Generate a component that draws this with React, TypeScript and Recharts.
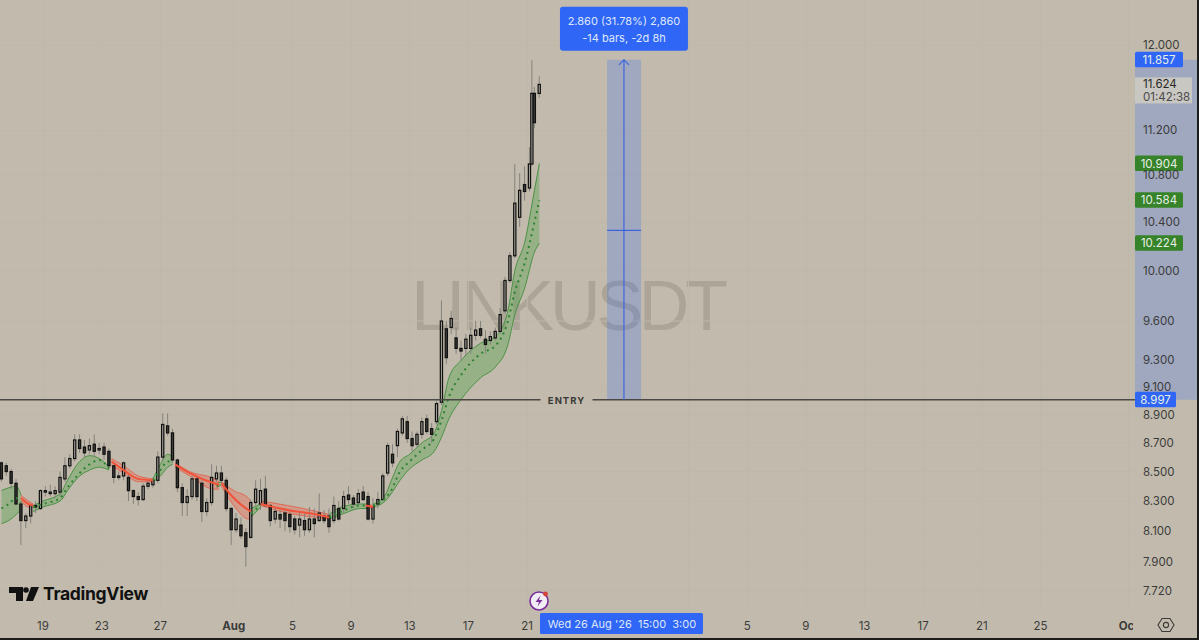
import React from "react";
import {
  ComposedChart,
  Area,
  Bar,
  Line,
  XAxis,
  YAxis,
  CartesianGrid,
  ReferenceArea,
  ReferenceDot,
  ReferenceLine,
} from "recharts";

// bars are 4h, counted from 19 Jul: [bar, open, high, low, close]
type Candle = [number, number, number, number, number];
// [bar, upper, mid, lower]
type BandPoint = [number, number, number, number];

const lateJulyCandles: Candle[] = [
  [-17, 8.56, 8.57, 8.43, 8.45], [-15, 8.54, 8.56, 8.47, 8.5], [-13, 8.5, 8.52, 8.38, 8.42], [-11, 8.42, 8.45, 8.28, 8.28],
  [-9, 8.28, 8.29, 8.01, 8.17], [-7, 8.17, 8.22, 8.12, 8.2], [-5, 8.2, 8.28, 8.15, 8.27], [-3, 8.27, 8.3, 8.22, 8.26],
  [-1, 8.25, 8.38, 8.24, 8.37], [1, 8.36, 8.4, 8.33, 8.37], [3, 8.36, 8.41, 8.33, 8.36], [5, 8.35, 8.4, 8.32, 8.37],
  [7, 8.36, 8.5, 8.33, 8.46], [9, 8.45, 8.6, 8.43, 8.54], [11, 8.54, 8.62, 8.52, 8.59], [13, 8.59, 8.76, 8.57, 8.72],
  [15, 8.72, 8.76, 8.63, 8.66], [17, 8.67, 8.72, 8.6, 8.63], [19, 8.65, 8.73, 8.62, 8.68], [21, 8.69, 8.76, 8.6, 8.64],
  [23, 8.65, 8.7, 8.62, 8.66], [25, 8.67, 8.7, 8.58, 8.62], [27, 8.64, 8.66, 8.52, 8.54], [29, 8.54, 8.55, 8.42, 8.46],
  [31, 8.46, 8.5, 8.44, 8.47], [33, 8.47, 8.57, 8.44, 8.56], [35, 8.46, 8.48, 8.3, 8.37], [37, 8.37, 8.38, 8.28, 8.33],
  [39, 8.33, 8.36, 8.27, 8.31], [41, 8.31, 8.42, 8.3, 8.4], [43, 8.4, 8.44, 8.38, 8.42], [45, 8.41, 8.46, 8.39, 8.44],
  [47, 8.44, 8.64, 8.42, 8.6], [49, 8.6, 8.91, 8.58, 8.83], [51, 8.82, 8.91, 8.75, 8.77], [53, 8.77, 8.8, 8.56, 8.58],
  [55, 8.58, 8.59, 8.36, 8.39], [57, 8.39, 8.42, 8.2, 8.29], [59, 8.29, 8.38, 8.2, 8.33], [61, 8.33, 8.47, 8.31, 8.45],
  [63, 8.45, 8.47, 8.3, 8.33], [65, 8.42, 8.44, 8.16, 8.23], [67, 8.23, 8.32, 8.2, 8.29], [69, 8.29, 8.55, 8.27, 8.46],
  [71, 8.45, 8.54, 8.43, 8.49], [73, 8.49, 8.54, 8.42, 8.44], [75, 8.44, 8.46, 8.23, 8.25], [77, 8.25, 8.26, 8.01, 8.11],
  [79, 8.11, 8.22, 8.09, 8.18], [81, 8.14, 8.19, 8.05, 8.07], [83, 8.09, 8.12, 7.87, 8.0],
];

const earlyAugustCandles: Candle[] = [
  [85, 8.06, 8.31, 8.05, 8.29], [87, 8.29, 8.44, 8.27, 8.38], [89, 8.28, 8.45, 8.24, 8.37], [91, 8.38, 8.47, 8.26, 8.27],
  [93, 8.27, 8.28, 8.13, 8.17], [95, 8.18, 8.26, 8.15, 8.23], [97, 8.21, 8.24, 8.12, 8.18], [99, 8.22, 8.25, 8.1, 8.17],
  [101, 8.21, 8.23, 8.09, 8.13], [103, 8.18, 8.2, 8.08, 8.11], [105, 8.14, 8.22, 8.06, 8.18], [107, 8.17, 8.22, 8.07, 8.11],
  [109, 8.11, 8.26, 8.09, 8.18], [111, 8.18, 8.25, 8.06, 8.15], [113, 8.17, 8.35, 8.16, 8.22], [115, 8.2, 8.24, 8.15, 8.17],
  [117, 8.2, 8.25, 8.09, 8.13], [119, 8.17, 8.33, 8.15, 8.27], [121, 8.25, 8.3, 8.17, 8.18], [123, 8.25, 8.37, 8.22, 8.33],
  [125, 8.34, 8.4, 8.28, 8.31], [127, 8.32, 8.34, 8.25, 8.28], [129, 8.29, 8.38, 8.27, 8.35], [131, 8.36, 8.4, 8.3, 8.31],
  [133, 8.33, 8.36, 8.17, 8.18], [135, 8.18, 8.32, 8.15, 8.26], [137, 8.28, 8.36, 8.25, 8.31], [139, 8.31, 8.49, 8.3, 8.47],
];

const breakoutCandles: Candle[] = [
  [141, 8.49, 8.7, 8.47, 8.68], [143, 8.62, 8.69, 8.53, 8.56], [145, 8.68, 8.8, 8.6, 8.78], [147, 8.77, 8.89, 8.75, 8.87],
  [149, 8.85, 8.89, 8.7, 8.73], [151, 8.73, 8.78, 8.64, 8.68], [153, 8.69, 8.78, 8.67, 8.76], [155, 8.76, 8.88, 8.73, 8.85],
  [157, 8.87, 8.9, 8.76, 8.78], [159, 8.8, 8.84, 8.7, 8.76], [161, 8.85, 9.0, 8.83, 8.98], [163, 8.99, 9.76, 8.97, 9.6],
  [165, 9.54, 9.6, 9.27, 9.32], [167, 9.55, 9.68, 9.5, 9.62], [169, 9.47, 9.55, 9.35, 9.39], [171, 9.39, 9.45, 9.3, 9.37],
  [173, 9.39, 9.5, 9.33, 9.46], [175, 9.39, 9.55, 9.35, 9.49], [177, 9.49, 9.6, 9.45, 9.53], [179, 9.54, 9.6, 9.47, 9.49],
  [181, 9.46, 9.53, 9.35, 9.42], [183, 9.45, 9.52, 9.42, 9.48], [185, 9.47, 9.55, 9.45, 9.52], [187, 9.52, 9.7, 9.5, 9.65],
  [189, 9.68, 9.95, 9.66, 9.92], [191, 9.92, 10.15, 9.9, 10.12], [193, 10.12, 10.9, 10.1, 10.56], [195, 10.44, 10.82, 10.36, 10.67],
  [197, 10.72, 10.88, 10.58, 10.66], [199, 10.69, 11.05, 10.66, 10.9], [200, 10.9, 11.855, 10.88, 11.54], [201, 11.54, 11.6, 11.22, 11.27],
  [203, 11.54, 11.7, 11.5, 11.624],
];

const greenBands: BandPoint[][] = [
  [[-17, 8.37, 8.25, 8.15], [-14, 8.39, 8.28, 8.17], [-11, 8.4, 8.32, 8.21], [-9, 8.34, 8.29, 8.24]],
  [[-4, 8.27, 8.26, 8.23], [0, 8.3, 8.28, 8.26], [7, 8.35, 8.32, 8.3], [10, 8.44, 8.39, 8.37], [15, 8.57, 8.49, 8.47], [19, 8.61, 8.55, 8.51], [23, 8.59, 8.58, 8.53], [27, 8.53, 8.52, 8.51]],
  [[45, 8.45, 8.44, 8.43], [48, 8.55, 8.51, 8.47], [51, 8.62, 8.57, 8.53], [53, 8.6, 8.57, 8.55]],
  [[71, 8.42, 8.4, 8.39], [73, 8.43, 8.42, 8.41]],
  [[85, 8.25, 8.22, 8.19], [89, 8.28, 8.27, 8.26]],
  [[117, 8.21, 8.19, 8.18], [122, 8.26, 8.23, 8.21], [130, 8.28, 8.27, 8.25], [133, 8.28, 8.27, 8.25]],
  [
    [135, 8.28, 8.27, 8.26], [140, 8.34, 8.32, 8.3], [142, 8.42, 8.36, 8.34], [146, 8.57, 8.5, 8.44], [150, 8.62, 8.57, 8.52],
    [155, 8.7, 8.65, 8.58], [160, 8.77, 8.73, 8.64], [163, 8.93, 8.86, 8.74], [166, 9.17, 9.03, 8.87], [171, 9.3, 9.19, 9.01],
    [179, 9.43, 9.35, 9.17], [185, 9.48, 9.41, 9.25], [190, 9.67, 9.59, 9.41], [193, 10.0, 9.83, 9.65], [197, 10.23, 10.06, 9.86],
    [201, 10.67, 10.4, 10.15], [203, 10.904, 10.584, 10.224],
  ],
];

const redBands: BandPoint[][] = [
  [[-9, 8.34, 8.32, 8.3], [-6, 8.3, 8.28, 8.26], [-4, 8.28, 8.27, 8.26]],
  [[28, 8.59, 8.57, 8.54], [33, 8.54, 8.51, 8.49], [39, 8.47, 8.45, 8.43], [45, 8.45, 8.44, 8.43]],
  [[54, 8.56, 8.55, 8.53], [60, 8.5, 8.49, 8.47], [70, 8.45, 8.42, 8.38], [72, 8.43, 8.41, 8.38]],
  [[73, 8.43, 8.42, 8.4], [78, 8.37, 8.32, 8.27], [84, 8.32, 8.24, 8.18], [85, 8.3, 8.23, 8.19]],
  [[89, 8.3, 8.28, 8.27], [100, 8.27, 8.24, 8.22], [112, 8.23, 8.21, 8.19], [117, 8.21, 8.19, 8.18]],
  [[132, 8.28, 8.27, 8.26], [135, 8.27, 8.26, 8.25]],
];

const priceTicks = [12, 11.2, 10.8, 10.4, 10, 9.6, 9.3, 9.1, 8.9, 8.7, 8.5, 8.3, 8.1, 7.9, 7.72];
const timeTicks = [0, 24, 48, 78, 102, 126, 150, 174, 198, 264, 288, 312, 336, 360, 384, 408, 444];
// the 1 Sep label sits under the crosshair date in the original
const timeLabels = ["19", "23", "27", "Aug", "5", "9", "13", "17", "21", "", "5", "9", "13", "17", "21", "25", "Oct"];

const entryLevel = 9.008; // 8.997 on the tag, line sits about 1px higher on screen
const targetPrice = 11.857;
const midPrice = 10.33;
const emaTags = [
  { price: 10.904, label: "10.904" },
  { price: 10.584, label: "10.584" },
  { price: 10.224, label: "10.224" },
];

const BG = "#c2bbad";
const BLUE = "#2f66f5";
const UI_FONT = "Inter, 'Noto Sans', sans-serif";

const toRow = ([bar, open, high, low, close]: Candle) => ({ bar, open, high, low, close, range: [low, high] });
const rows = [...lateJulyCandles, ...earlyAugustCandles, ...breakoutCandles].map(toRow);
const toBand = (seg: BandPoint[]) => seg.map(([bar, upper, mid, lower]) => ({ bar, upper, mid, lower, cloud: [lower, upper] }));

const CandleShape = (props: any) => {
  const { x, y, width, height, payload } = props;
  const { open, high, low, close } = payload;
  const k = height / Math.log(high / low);
  const top = y + k * Math.log(high / Math.max(open, close));
  const bottom = y + k * Math.log(high / Math.min(open, close));
  const up = close >= open;
  return (
    <g>
      <line x1={x + width / 2} x2={x + width / 2} y1={y} y2={y + height} stroke="#84827c" strokeWidth={1} />
      <rect
        x={x}
        y={top}
        width={width}
        height={Math.max(bottom - top, 1.5)}
        fill={up ? "#a9a69d" : "#3c3c39"}
        stroke="#101010"
        strokeWidth={1.2}
      />
    </g>
  );
};

const PriceTick = ({ y, payload }: any) => (
  <text x={1143} y={y + 4} fontSize={11.5} fontFamily={UI_FONT} fill="#3b3b3b">
    {payload.value.toFixed(3)}
  </text>
);

const TimeTick = ({ x, y, index }: any) => {
  const label = timeLabels[index];
  const bold = label === "Aug" || label === "Oct";
  return (
    <g clipPath={label === "Oct" ? "url(#octClip)" : undefined}>
      <clipPath id="octClip">
        <rect x={1100} y={610} width={33} height={30} />
      </clipPath>
      <text x={x} y={y + 12} textAnchor="middle" fontSize={11.5} fontWeight={bold ? 700 : 400} fontFamily={UI_FONT} fill="#3b3b3b">
        {label}
      </text>
    </g>
  );
};

const PriceTag = ({ cy, text, fill, w }: any) => (
  <g>
    <rect x={1135} y={cy - 8} width={w} height={15.5} rx={1.5} fill={fill} />
    <text x={1135 + w / 2} y={cy + 4} textAnchor="middle" fontSize={11.5} fontFamily={UI_FONT} fill="#e8efe6">
      {text}
    </text>
  </g>
);

const MeasureBox = ({ cx, cy }: any) => (
  <g>
    <path d={`M${cx - 5} ${cy + 5} L${cx} ${cy} L${cx + 5} ${cy + 5}`} fill="none" stroke="#3f63dd" strokeWidth={1.2} />
    <rect x={cx - 64} y={cy - 53} width={128} height={44} rx={3} fill={BLUE} />
    <text x={cx} y={cy - 35} textAnchor="middle" fontSize={11} fontFamily={UI_FONT} fill="#dfe6fb">
      2.860 (31.78%) 2,860
    </text>
    <text x={cx} y={cy - 18} textAnchor="middle" fontSize={11} fontFamily={UI_FONT} fill="#dfe6fb">
      -14 bars, -2d 8h
    </text>
  </g>
);

const EntryLabel = ({ cx, cy }: any) => (
  <g>
    <rect x={cx - 26} y={cy - 8} width={52} height={16} fill={BG} />
    <text x={cx} y={cy + 4} textAnchor="middle" fontSize={9.5} fontWeight={700} letterSpacing={1} fontFamily={UI_FONT} fill="#3a3a38">
      ENTRY
    </text>
  </g>
);

const DateLabel = ({ cx, cy }: any) => (
  <g>
    <rect x={cx - 82} y={cy + 3} width={163} height={21} rx={1.5} fill={BLUE} />
    <text x={cx} y={cy + 18} textAnchor="middle" fontSize={11} fontFamily={UI_FONT} fill="#dfe6fb" xmlSpace="preserve">
      Wed 26 Aug '26  15:00  3:00
    </text>
  </g>
);

export default function App() {
  return (
    <div style={{ position: "absolute", left: 0, top: 0, width: 1199, height: 640, background: BG, overflow: "hidden" }}>
      <div
        style={{
          position: "absolute",
          left: 400,
          top: 266,
          width: 335,
          textAlign: "center",
          fontFamily: "'Liberation Sans', sans-serif",
          fontSize: 70,
          letterSpacing: -4.2,
          lineHeight: "80px",
          color: "#aba497",
          whiteSpace: "nowrap",
        }}
      >
        LINKUSDT
      </div>

      <div style={{ position: "absolute", left: 0, top: 0 }}>
        <ComposedChart width={1199} height={640} data={rows} margin={{ top: 0, right: 0, bottom: 0, left: 0 }}>
          <CartesianGrid stroke="#bfb8aa" strokeWidth={1} horizontalValues={priceTicks} verticalValues={timeTicks} />
          <XAxis
            dataKey="bar"
            type="number"
            domain={[-17.6, 472.8]}
            allowDataOverflow
            ticks={timeTicks}
            interval={0}
            height={30}
            axisLine={false}
            tickLine={false}
            tick={<TimeTick />}
          />
          <YAxis
            orientation="right"
            mirror
            scale="log"
            type="number"
            domain={[7.6, 12.445]}
            allowDataOverflow
            ticks={priceTicks}
            interval={0}
            axisLine={false}
            tickLine={false}
            tick={<PriceTick />}
          />

          {/* price scale panel hides the grid */}
          <ReferenceArea x1={446.6} x2={472.8} y1={7.6} y2={12.445} fill={BG} fillOpacity={1} stroke="none" />
          <ReferenceArea x1={230.7} x2={244.6} y1={entryLevel} y2={targetPrice} fill="#2962ff" fillOpacity={0.22} stroke="none" />
          <ReferenceArea x1={446.6} x2={472.8} y1={entryLevel} y2={targetPrice} fill="#2962ff" fillOpacity={0.22} stroke="none" />

          {greenBands.map((seg, i) => (
            <Area key={`ga${i}`} type="monotone" data={toBand(seg)} dataKey="cloud" stroke="#4b9146" strokeWidth={1} fill="#5ea552" fillOpacity={0.42} isAnimationActive={false} activeDot={false} />
          ))}
          {redBands.map((seg, i) => (
            <Area key={`ra${i}`} type="monotone" data={toBand(seg)} dataKey="cloud" stroke="#df6a55" strokeWidth={1} fill="#ea6a52" fillOpacity={0.4} isAnimationActive={false} activeDot={false} />
          ))}
          {greenBands.map((seg, i) => (
            <Line key={`gl${i}`} type="monotone" data={toBand(seg)} dataKey="mid" stroke="#2f8233" strokeWidth={2} strokeDasharray="2 4" dot={false} activeDot={false} isAnimationActive={false} />
          ))}
          {redBands.map((seg, i) => (
            <Line key={`rl${i}`} type="monotone" data={toBand(seg)} dataKey="mid" stroke="#f0533a" strokeWidth={2} dot={false} activeDot={false} isAnimationActive={false} />
          ))}

          <Bar dataKey="range" barSize={4} shape={<CandleShape />} isAnimationActive={false} />

          <ReferenceLine
            segment={[{ x: -17.6, y: entryLevel }, { x: 446.6, y: entryLevel }]}
            stroke="#4a4845"
            strokeWidth={1.3}
          />
          <ReferenceLine
            segment={[{ x: 237.6, y: entryLevel }, { x: 237.6, y: targetPrice }]}
            stroke="#3f63dd"
            strokeWidth={1.2}
          />
          <ReferenceLine
            segment={[{ x: 230.7, y: midPrice }, { x: 244.6, y: midPrice }]}
            stroke="#3f63dd"
            strokeWidth={1.2}
          />

          <ReferenceDot x={237.6} y={targetPrice} shape={<MeasureBox />} />
          <ReferenceDot x={214.1} y={entryLevel} shape={<EntryLabel />} />
          <ReferenceDot x={236.8} y={7.6} ifOverflow="visible" shape={<DateLabel />} />

          {emaTags.map((t) => (
            <ReferenceDot key={t.label} x={450} y={t.price} shape={(p: any) => <PriceTag cy={p.cy} text={t.label} fill="#36832a" w={48} />} />
          ))}
          <ReferenceDot x={450} y={targetPrice} shape={(p: any) => <PriceTag cy={p.cy} text="11.857" fill={BLUE} w={48} />} />
          <ReferenceDot x={450} y={entryLevel} shape={(p: any) => <PriceTag cy={p.cy} text="8.997" fill={BLUE} w={41} />} />
          <ReferenceDot
            x={450}
            y={11.624}
            shape={(p: any) => (
              <g>
                <rect x={1135} y={p.cy - 7} width={57} height={26} fill="#c9c7c1" />
                <text x={1143} y={p.cy + 4} fontSize={11.5} fontFamily={UI_FONT} fill="#262626">11.624</text>
                <text x={1143} y={p.cy + 17} fontSize={11.5} fontFamily={UI_FONT} fill="#4a4a4a">01:42:38</text>
              </g>
            )}
          />
        </ComposedChart>
      </div>

      {/* TradingView mark */}
      <svg style={{ position: "absolute", left: 0, top: 575 }} width={160} height={40}>
        <path d="M9 12 H23 V26 H16 V18 H9 Z" fill="#111" />
        <circle cx={26} cy={15} r={2.8} fill="#111" />
        <path d="M31 12 H39 L33 26 H26 Z" fill="#111" />
        <text x={43} y={25} fontSize={17.5} fontWeight={700} fontFamily={UI_FONT} fill="#111" letterSpacing={-0.3}>
          TradingView
        </text>
      </svg>

      {/* event icon and scale settings */}
      <svg style={{ position: "absolute", left: 525, top: 588 }} width={30} height={28}>
        <circle cx={14} cy={13} r={9} fill="#f1edf4" stroke="#7a2f9a" strokeWidth={1.6} />
        <path d="M15.5 7.5 L10.5 14 H14 L12.5 18.5 L17.5 12 H14 Z" fill="#7a2f9a" />
        <circle cx={20.5} cy={6} r={2.4} fill="#d8413a" />
      </svg>
      <svg style={{ position: "absolute", left: 1156, top: 615 }} width={20} height={20}>
        <path d="M6 3.5 H14 L18 10 L14 16.5 H6 L2 10 Z" fill="none" stroke="#3b3b3b" strokeWidth={1.1} />
        <circle cx={10} cy={10} r={2.6} fill="none" stroke="#3b3b3b" strokeWidth={1.1} />
      </svg>

      {/* window edge */}
      <div style={{ position: "absolute", right: 0, top: 0, width: 2, height: 640, background: "#1c1c1c" }} />
      <div style={{ position: "absolute", left: 0, bottom: 0, width: 1199, height: 2, background: "#1c1c1c" }} />
    </div>
  );
}
